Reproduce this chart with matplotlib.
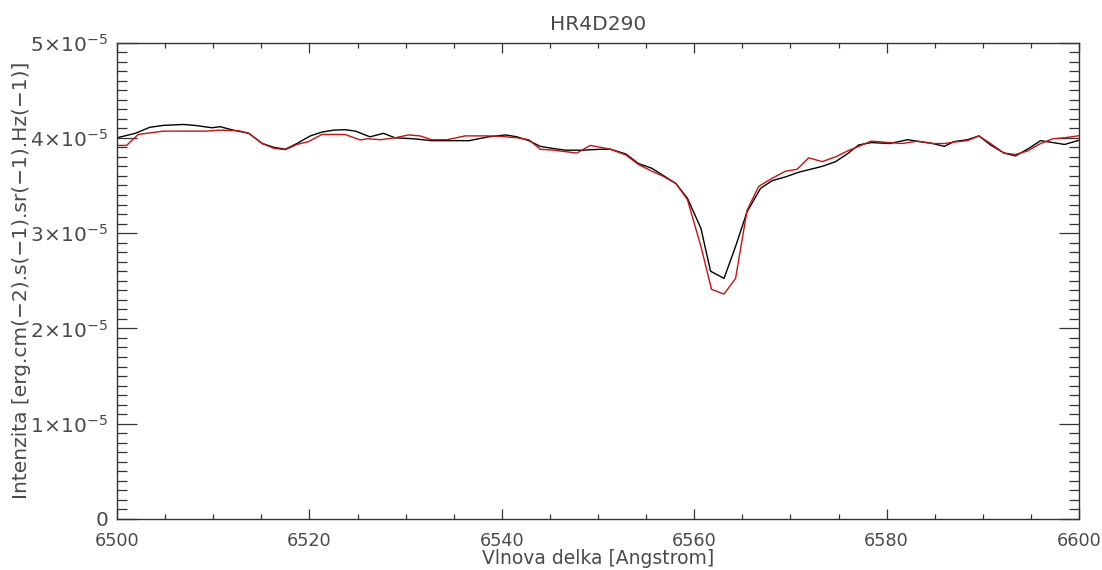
import matplotlib
matplotlib.use("Agg")
import matplotlib.pyplot as plt
from matplotlib.ticker import MultipleLocator
import numpy as np

# black spectrum (wavelength in Angstrom, intensity in 1e-5 units)
wl_black = [6499.8, 6501.9, 6503.4, 6504.8, 6506.9, 6508.1, 6509.9, 6510.7, 6512.1, 6513.7,
            6515.1, 6516.3, 6517.5, 6518.7, 6520.1, 6521.3, 6522.5, 6523.7, 6524.8, 6526.3,
            6527.7, 6528.9, 6530.8, 6532.7, 6534.8, 6536.6, 6538.6, 6540.4, 6541.6, 6542.8,
            6544.0, 6545.2, 6546.6, 6548.4, 6550.3, 6551.3, 6552.9, 6554.2, 6555.6, 6556.7,
            6558.1, 6559.3, 6560.7, 6561.7, 6563.1, 6564.3, 6565.5, 6566.9, 6568.1, 6569.5,
            6570.9, 6572.1, 6573.3, 6574.7, 6575.9, 6577.1, 6578.4, 6580.3, 6582.2, 6583.4,
            6584.6, 6586.0, 6587.0, 6588.4, 6589.6, 6590.8, 6592.2, 6593.4, 6594.8, 6596.0,
            6597.3, 6598.5, 6600.2]
int_black = [3.995, 4.047, 4.11, 4.13, 4.14, 4.13, 4.105, 4.117, 4.08, 4.047,
             3.94, 3.90, 3.88, 3.94, 4.02, 4.06, 4.08, 4.085, 4.07, 4.01,
             4.047, 4.00, 3.99, 3.97, 3.97, 3.97, 4.01, 4.03, 4.01, 3.97,
             3.91, 3.89, 3.87, 3.87, 3.88, 3.88, 3.83, 3.73, 3.68, 3.61,
             3.52, 3.365, 3.05, 2.60, 2.525, 2.86, 3.225, 3.47, 3.55, 3.59,
             3.64, 3.67, 3.70, 3.75, 3.83, 3.925, 3.95, 3.94, 3.98, 3.96,
             3.945, 3.91, 3.96, 3.98, 4.02, 3.925, 3.84, 3.81, 3.89, 3.97,
             3.95, 3.93, 3.98]

# red spectrum
wl_red = [6499.8, 6501.0, 6502.2, 6504.8, 6509.2, 6510.7, 6512.6, 6513.7, 6515.1, 6516.3,
          6517.5, 6518.7, 6519.9, 6521.3, 6523.7, 6525.3, 6526.0, 6527.4, 6528.9, 6530.3,
          6531.5, 6532.7, 6534.3, 6536.2, 6538.6, 6539.9, 6541.6, 6542.8, 6544.0, 6545.4,
          6546.6, 6547.8, 6549.2, 6550.3, 6551.3, 6552.9, 6554.2, 6555.6, 6556.7, 6558.1,
          6559.3, 6560.7, 6561.8, 6563.1, 6564.3, 6565.5, 6566.7, 6568.1, 6569.5, 6570.7,
          6571.9, 6573.3, 6574.7, 6575.9, 6577.1, 6578.4, 6580.3, 6581.6, 6583.2, 6584.7,
          6586.0, 6587.0, 6588.4, 6589.6, 6590.8, 6592.2, 6593.4, 6594.6, 6596.0, 6597.3,
          6598.5, 6600.2]
int_red = [3.92, 3.92, 4.035, 4.07, 4.07, 4.08, 4.075, 4.047, 3.94, 3.89,
           3.875, 3.93, 3.96, 4.035, 4.035, 3.977, 3.99, 3.98, 4.00, 4.03,
           4.02, 3.98, 3.98, 4.02, 4.02, 4.015, 4.00, 3.98, 3.88, 3.87,
           3.855, 3.84, 3.92, 3.90, 3.88, 3.82, 3.72, 3.65, 3.60, 3.52,
           3.35, 2.86, 2.41, 2.36, 2.525, 3.24, 3.49, 3.575, 3.65, 3.67,
           3.79, 3.75, 3.80, 3.86, 3.91, 3.965, 3.95, 3.94, 3.965, 3.94,
           3.94, 3.955, 3.97, 4.02, 3.94, 3.84, 3.825, 3.86, 3.94, 3.99,
           4.00, 4.025]

y_ticks = [0, 1e-5, 2e-5, 3e-5, 4e-5, 5e-5]
y_tick_labels = ['0', r'$1\!\times\!10^{-5}$', r'$2\!\times\!10^{-5}$', r'$3\!\times\!10^{-5}$',
                 r'$4\!\times\!10^{-5}$', r'$5\!\times\!10^{-5}$']
x_ticks = [6500, 6520, 6540, 6560, 6580, 6600]

plt.rcParams['font.family'] = ['DejaVu Sans']
plt.rcParams['mathtext.fontset'] = 'dejavusans'
txt = '#4a4a4a'
axc = '#333333'

fig = plt.figure(figsize=(11.02, 5.70), dpi=100)
ax = fig.add_axes([117 / 1102, 1 - 519 / 570, 962 / 1102, 476.5 / 570])

ax.plot(wl_black, np.array(int_black) * 1e-5, color='black', lw=1.0)
ax.plot(wl_red, np.array(int_red) * 1e-5, color='#cc1111', lw=1.0)

ax.set_xlim(6500, 6600)
ax.set_ylim(0, 5e-5)
ax.set_xticks(x_ticks)
ax.set_xticklabels([str(t) for t in x_ticks])
ax.set_yticks(y_ticks)
ax.set_yticklabels(y_tick_labels)
ax.xaxis.set_minor_locator(MultipleLocator(5))
ax.yaxis.set_minor_locator(MultipleLocator(1e-6))

ax.tick_params(axis='x', which='major', direction='in', length=7.2, width=0.9,
               top=True, bottom=True, color=axc, labelsize=12.7, labelcolor=txt, pad=9)
ax.tick_params(axis='x', which='minor', direction='in', length=3.6, width=0.9,
               top=True, bottom=True, color=axc)
ax.tick_params(axis='y', which='major', direction='in', length=14.4, width=0.9,
               left=True, right=True, color=axc, labelsize=14.5, labelcolor=txt, pad=6)
ax.tick_params(axis='y', which='minor', direction='in', length=7.2, width=0.9,
               left=True, right=True, color=axc)
for s in ax.spines.values():
    s.set_color(axc)
    s.set_linewidth(1.0)

ax.set_title('HR4D290', fontsize=14.5, color=txt, pad=9)
ax.set_xlabel('Vlnova delka [Angstrom]', fontsize=13.5, color=txt, labelpad=0)
ax.set_ylabel('Intenzita [erg.cm(\u22122).s(\u22121).sr(\u22121).Hz(\u22121)]',
              fontsize=14.5, color=txt)
ax.yaxis.set_label_coords(-0.089, 0.5)

fig.savefig('out.png', dpi=100)
